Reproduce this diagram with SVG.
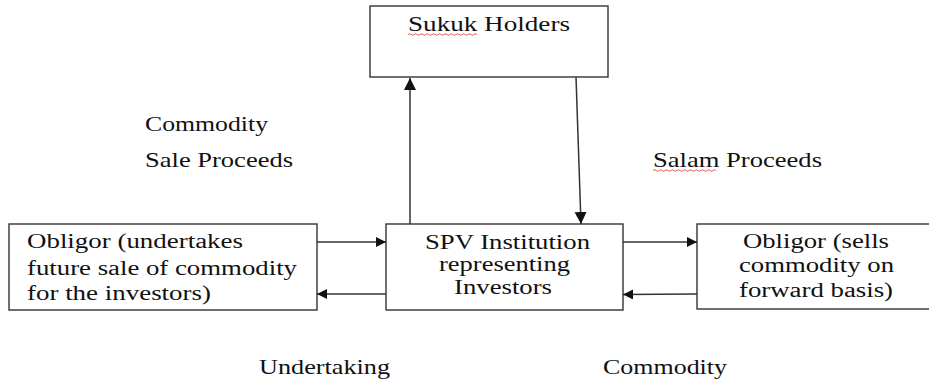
<svg xmlns="http://www.w3.org/2000/svg" width="929" height="380" viewBox="0 0 929 380">
<style>
.box{fill:#fff;stroke:#333;stroke-width:1.4}
.t{font-family:'Liberation Serif','Tinos','Times New Roman','DejaVu Serif','Noto Serif',serif;font-size:22px;fill:#111}
.s{font-size:20px}
.ln{stroke:#333;stroke-width:1.5;fill:none}
.sq{stroke:#e03030;stroke-width:0.8;fill:none}
</style>
<defs>
<marker id="ah" viewBox="0 0 10 10" refX="10" refY="5" markerWidth="10" markerHeight="10" markerUnits="userSpaceOnUse" orient="auto">
<path d="M0,0 L10,5 L0,10 z" fill="#111"/>
</marker>
<marker id="ahv" viewBox="0 0 10 10" refX="10" refY="5" markerWidth="12" markerHeight="13" markerUnits="userSpaceOnUse" orient="auto">
<path d="M0,0 L10,5 L0,10 z" fill="#111"/>
</marker>
</defs>
<rect width="929" height="380" fill="#fff"/>
<g id="sukuk-holders">
<rect class="box" x="370" y="6" width="238" height="71"/>
<text class="t" x="408" y="31" textLength="162" lengthAdjust="spacingAndGlyphs">Sukuk Holders</text>
<path class="sq" d="M408,34.5 q1.5,-1.5 3,0 t3,0 t3,0 t3,0 t3,0 t3,0 t3,0 t3,0 t3,0 t3,0 t3,0 t3,0 t3,0 t3,0 t3,0 t3,0 t3,0 t3,0 t3,0 t3,0 t3,0 t3,0 t3,0"/>
</g>
<g id="obligor-left">
<rect class="box" x="9" y="224" width="308" height="86"/>
<text class="t s" x="27" y="248" textLength="216" lengthAdjust="spacingAndGlyphs">Obligor (undertakes</text>
<text class="t s" x="27" y="275" textLength="270" lengthAdjust="spacingAndGlyphs">future sale of commodity</text>
<text class="t s" x="27" y="300" textLength="184" lengthAdjust="spacingAndGlyphs">for the investors)</text>
</g>
<g id="spv">
<rect class="box" x="386" y="224" width="237" height="86"/>
<text class="t s" x="425" y="249" textLength="165" lengthAdjust="spacingAndGlyphs">SPV Institution</text>
<text class="t s" x="439" y="271" textLength="131" lengthAdjust="spacingAndGlyphs">representing</text>
<text class="t s" x="454" y="294" textLength="98" lengthAdjust="spacingAndGlyphs">Investors</text>
</g>
<g id="obligor-right">
<rect class="box" x="697" y="224" width="240" height="85"/>
<text class="t s" x="743" y="248" textLength="146" lengthAdjust="spacingAndGlyphs">Obligor (sells</text>
<text class="t s" x="739" y="272" textLength="155" lengthAdjust="spacingAndGlyphs">commodity on</text>
<text class="t s" x="739" y="297" textLength="154" lengthAdjust="spacingAndGlyphs">forward basis)</text>
</g>
<g id="connectors">
<line class="ln" x1="410" y1="224" x2="410" y2="78" marker-end="url(#ahv)"/>
<line class="ln" x1="576" y1="77" x2="581" y2="224" marker-end="url(#ahv)"/>
<line class="ln" x1="317" y1="242" x2="386" y2="242" marker-end="url(#ah)"/>
<line class="ln" x1="386" y1="294" x2="317" y2="294" marker-end="url(#ah)"/>
<line class="ln" x1="623" y1="242" x2="697" y2="242" marker-end="url(#ah)"/>
<line class="ln" x1="697" y1="294" x2="623" y2="294.5" marker-end="url(#ah)"/>
</g>
<g id="labels">
<text class="t" x="145" y="131" textLength="123" lengthAdjust="spacingAndGlyphs">Commodity</text>
<text class="t" x="145" y="167" textLength="148" lengthAdjust="spacingAndGlyphs">Sale Proceeds</text>
<text class="t" x="653" y="167" textLength="169" lengthAdjust="spacingAndGlyphs">Salam Proceeds</text>
<path class="sq" d="M653,170.5 q1.5,-1.5 3,0 t3,0 t3,0 t3,0 t3,0 t3,0 t3,0 t3,0 t3,0 t3,0 t3,0 t3,0 t3,0 t3,0 t3,0 t3,0 t3,0 t3,0 t3,0 t3,0 t3,0"/>
<text class="t" x="259" y="374" textLength="131" lengthAdjust="spacingAndGlyphs">Undertaking</text>
<text class="t" x="603" y="374" textLength="124" lengthAdjust="spacingAndGlyphs">Commodity</text>
</g>
</svg>
